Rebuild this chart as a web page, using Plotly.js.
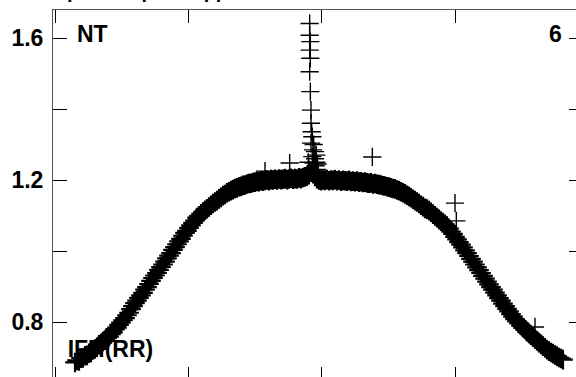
<!DOCTYPE html>
<html>
<head>
<meta charset="utf-8">
<script src="https://cdn.plot.ly/plotly-3.0.1.min.js"></script>
<style>
html,body{margin:0;padding:0;overflow:hidden;background:#fff;}
#chart{width:600px;height:400px;}
</style>
</head>
<body>
<div id="chart"></div>
<script>
// Main band (beat index vs IFH(RR))
const beatX = [15,16.5,18,19.5,21,22.5,24,25.5,27,28.5,30,31.5,33,34.5,36,37.5,39,40.5,42,43.5,45,46.5,48,49.5,51,52.5,54,55.5,57,58.5,60,61.5,63,64.5,66,67.5,69,70.5,72,73.5,75,76.5,78,79.5,81,82.5,84,85.5,87,88.5,90,91.5,93,94.5,96,97.5,99,100.5,102,103.5,105,106.5,108,109.5,111,112.5,114,115.5,117,118.5,120,121.5,123,124.5,126,127.5,129,130.5,132,133.5,135,136.5,138,139.5,141,142.5,144,145.5,147,148.5,150,151.5,153,154.5,156,157.5,159,160.5,162,163.5,165,166.5,168,169.5,171,172.5,174,175.5,177,178.5,180,181.5,183,184.5,186,187.5,189,190.5,192,193.5,195,196.5,198,199.5,201,202.5,204,205.5,207,208.5,210,211.5,213,214.5,216,217.5,219,220.5,222,223.5,225,226.5,228,229.5,231,232.5,234,235.5,237,238.5,240,241.5,243,244.5,246,247.5,249,250.5,252,253.5,255,256.5,258,259.5,261,262.5,264,265.5,267,268.5,270,271.5,273,274.5,276,277.5,279,280.5,282,283.5,285,286.5,288,289.5,291,292.5,294,295.5,297,298.5,300,301.5,303,304.5,306,307.5,309,310.5,312,313.5,315,316.5,318,319.5,321,322.5,324,325.5,327,328.5,330,331.5,333,334.5,336,337.5,339,340.5,342,343.5,345,346.5,348,349.5,351,352.5,354,355.5,357,358.5,360,361.5,363,364.5,366,367.5,369,370.5,372,373.5,375,376.5,378,379.5,381];
const beatY = [0.686,0.692,0.690,0.698,0.699,0.705,0.706,0.712,0.714,0.721,0.724,0.729,0.736,0.739,0.745,0.749,0.755,0.759,0.766,0.771,0.779,0.784,0.792,0.798,0.805,0.811,0.819,0.826,0.836,0.845,0.853,0.860,0.868,0.875,0.882,0.891,0.898,0.907,0.916,0.924,0.931,0.938,0.947,0.955,0.962,0.970,0.979,0.987,0.994,1.003,1.011,1.019,1.027,1.034,1.043,1.051,1.057,1.065,1.072,1.079,1.086,1.094,1.099,1.105,1.110,1.115,1.119,1.124,1.129,1.134,1.138,1.142,1.147,1.151,1.156,1.159,1.164,1.167,1.170,1.173,1.176,1.178,1.181,1.182,1.185,1.186,1.189,1.190,1.191,1.193,1.194,1.196,1.195,1.198,1.197,1.199,1.200,1.198,1.201,1.200,1.202,1.200,1.203,1.201,1.202,1.204,1.201,1.203,1.205,1.202,1.204,1.203,1.206,1.204,1.207,1.209,1.211,1.215,1.222,1.218,1.210,1.204,1.200,1.198,1.200,1.199,1.201,1.198,1.200,1.199,1.201,1.198,1.200,1.197,1.199,1.198,1.197,1.199,1.196,1.197,1.195,1.197,1.194,1.195,1.193,1.194,1.192,1.191,1.192,1.189,1.190,1.188,1.187,1.186,1.184,1.183,1.181,1.180,1.178,1.176,1.175,1.172,1.170,1.167,1.164,1.161,1.157,1.154,1.150,1.146,1.142,1.138,1.134,1.129,1.125,1.120,1.118,1.114,1.109,1.104,1.099,1.094,1.089,1.084,1.080,1.075,1.070,1.063,1.055,1.048,1.040,1.033,1.025,1.018,1.010,1.002,0.994,0.986,0.978,0.970,0.962,0.954,0.946,0.938,0.930,0.922,0.914,0.906,0.898,0.891,0.883,0.875,0.867,0.860,0.852,0.845,0.837,0.830,0.822,0.815,0.808,0.802,0.796,0.790,0.784,0.779,0.773,0.768,0.763,0.758,0.752,0.747,0.742,0.737,0.732,0.727,0.722,0.718,0.714,0.711,0.707,0.704,0.700,0.697,0.694];
// Spike near the middle
const spikeX = [191,191,191.5,191,191.5,191,191.5,192,192,192.5,193,192,193.5,193,194,194.5,195,195.5,196,190,190.5,196.5,194,195,197,197.5,196];
const spikeY = [1.641,1.608,1.590,1.566,1.543,1.505,1.449,1.397,1.360,1.336,1.322,1.304,1.285,1.266,1.248,1.228,1.260,1.240,1.250,1.250,1.230,1.230,1.300,1.280,1.245,1.225,1.270];
// Isolated outliers
const outX = [176,157.5,238,300,360,301];
const outY = [1.248,1.225,1.265,1.135,0.786,1.085];

const FONT = 'Liberation Sans, Arial, sans-serif';

const traces = [
  {x:[9.5], y:[0.717], mode:'text', text:['IFH(RR)'], textposition:'middle right',
   textfont:{family:FONT, size:23, color:'#000', weight:'bold'}, hoverinfo:'skip', showlegend:false},
  {x:beatX, y:beatY, mode:'markers', type:'scatter', showlegend:false,
   marker:{symbol:'cross-thin-open', size:14, color:'#000', line:{color:'#000', width:2.2}}},
  {x:spikeX.concat(outX), y:spikeY.concat(outY), mode:'markers', type:'scatter', showlegend:false,
   marker:{symbol:'cross-thin-open', size:13, color:'#000', line:{color:'#000', width:1.4}}}
];

const layout = {
  width:600, height:400,
  margin:{l:53, r:17, t:10, b:20},
  paper_bgcolor:'#fff', plot_bgcolor:'#fff',
  showlegend:false,
  xaxis:{range:[-1.5,396], tickvals:[0,100,200,300], ticks:'inside', ticklen:13, tickwidth:1, tickcolor:'#000',
         mirror:'allticks', showline:true, linecolor:'#555', linewidth:1, showticklabels:false,
         showgrid:false, zeroline:false},
  yaxis:{range:[0.6366,1.679], tickvals:[0.8,1.0,1.2,1.4,1.6], ticktext:['0.8','','1.2','','1.6'],
         ticks:'inside', ticklen:14, tickwidth:1, tickcolor:'#000', mirror:'allticks', showline:true,
         linecolor:'#555', linewidth:1, showgrid:false, zeroline:false,
         tickfont:{family:FONT, size:23, color:'#000', weight:'bold'}, ticklabelstandoff:4},
  annotations:[
    {xref:'paper', yref:'paper', x:0.042, y:0.935, xanchor:'left', yanchor:'middle', text:'NT', showarrow:false,
     font:{family:FONT, size:23, color:'#000', weight:'bold'}},
    {xref:'paper', yref:'paper', x:0.949, y:0.935, xanchor:'center', yanchor:'middle', text:'6', showarrow:false,
     font:{family:FONT, size:23, color:'#000', weight:'bold'}},
    {xref:'paper', yref:'paper', x:0.40, y:1.052, xanchor:'right', yanchor:'middle', text:'Filtered and phase space applied', showarrow:false,
     font:{family:FONT, size:20, color:'#000', weight:'bold'}}
  ]
};

Plotly.newPlot('chart', traces, layout, {displayModeBar:false, staticPlot:true});
</script>
</body>
</html>
